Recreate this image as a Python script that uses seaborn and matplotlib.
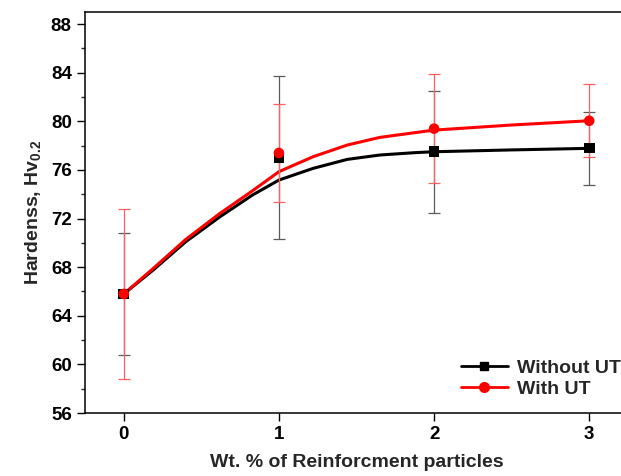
import matplotlib
matplotlib.use("Agg")
import matplotlib.pyplot as plt
import seaborn as sns
import pandas as pd
from matplotlib.lines import Line2D
from matplotlib.ticker import MultipleLocator

# Measured points
wt = [0, 1, 2, 3]
without_ut = [65.8, 77.0, 77.5, 77.8]
without_err = [5.0, 6.7, 5.0, 3.0]
with_ut = [65.8, 77.4, 79.4, 80.05]
with_err = [7.0, 4.0, 4.5, 3.0]

# Fitted curves
curve_x = [0, 0.19, 0.40, 0.62, 0.83, 1.0, 1.22, 1.44, 1.65, 1.87, 2.0, 2.5, 3.0]
curve_without = [65.8, 67.77, 70.1, 72.15, 73.94, 75.17, 76.13, 76.87, 77.23, 77.42, 77.5, 77.65, 77.78]
curve_with = [65.8, 67.9, 70.29, 72.43, 74.29, 75.86, 77.09, 78.05, 78.68, 79.06, 79.28, 79.7, 80.05]

sns.set_style("ticks")
plt.rcParams['font.family'] = ['Liberation Sans', 'DejaVu Sans']
plt.rcParams['font.weight'] = 'bold'
plt.rcParams['mathtext.fontset'] = 'custom'
plt.rcParams['mathtext.rm'] = 'Liberation Sans'
plt.rcParams['mathtext.bf'] = 'Liberation Sans:bold'

fig = plt.figure(figsize=(6.21, 4.76), dpi=100)
ax = fig.add_axes([85/621, 63/476, (628-85)/621, (413-12)/476])

df_curve = pd.DataFrame({"x": curve_x + curve_x,
                         "y": curve_without + curve_with,
                         "s": ["Without UT"] * len(curve_x) + ["With UT"] * len(curve_x)})
sns.lineplot(data=df_curve, x="x", y="y", hue="s",
             palette={"Without UT": "black", "With UT": "#ff0000"},
             linewidth=2.2, ax=ax, legend=False, sort=True)

ax.errorbar(wt, without_ut, yerr=without_err, fmt='none', ecolor='#5a5a5a',
            elinewidth=0.9, capsize=4, capthick=0.9, zorder=3)
ax.errorbar(wt, with_ut, yerr=with_err, fmt='none', ecolor='#ff6060',
            elinewidth=0.9, capsize=4, capthick=0.9, zorder=3)

df_pts = pd.DataFrame({"x": wt + wt, "y": without_ut + with_ut,
                       "s": ["Without UT"] * 4 + ["With UT"] * 4})
sns.scatterplot(data=df_pts, x="x", y="y", hue="s", style="s",
                markers={"Without UT": "s", "With UT": "o"},
                palette={"Without UT": "black", "With UT": "#ff0000"},
                s=58, edgecolor='none', ax=ax, legend=False, zorder=4)

ax.set_xlim(-0.25, 3.25)
ax.set_ylim(56, 89)
ax.set_xticks(wt)
ax.set_yticks(range(56, 89, 4))
ax.yaxis.set_minor_locator(MultipleLocator(2))
ax.tick_params(axis='both', which='major', direction='out', length=6, width=1,
               labelsize=13.5, colors='black')
ax.tick_params(axis='y', which='minor', direction='out', length=3, width=1)
for lab in ax.get_xticklabels() + ax.get_yticklabels():
    lab.set_fontweight('bold')
for sp in ax.spines.values():
    sp.set_linewidth(1.1)
    sp.set_color('black')

ax.set_xlabel("Wt. % of Reinforcment particles", fontsize=14, fontweight='bold', labelpad=8)
ax.set_ylabel(r"Hardenss, Hv$_{\mathregular{0.2}}$", fontsize=14, fontweight='bold', labelpad=5)

handles = [Line2D([0], [0], color='black', lw=2, marker='s', markersize=6),
           Line2D([0], [0], color='#ff0000', lw=2, marker='o', markersize=7)]
ax.legend(handles, ["Without UT", "With UT"], loc='lower right', frameon=False,
          prop={'weight': 'bold', 'size': 14}, handlelength=2.4, handletextpad=0.5,
          bbox_to_anchor=(1.02, -0.005), labelspacing=0.15)

fig.savefig("out.png", dpi=100)
